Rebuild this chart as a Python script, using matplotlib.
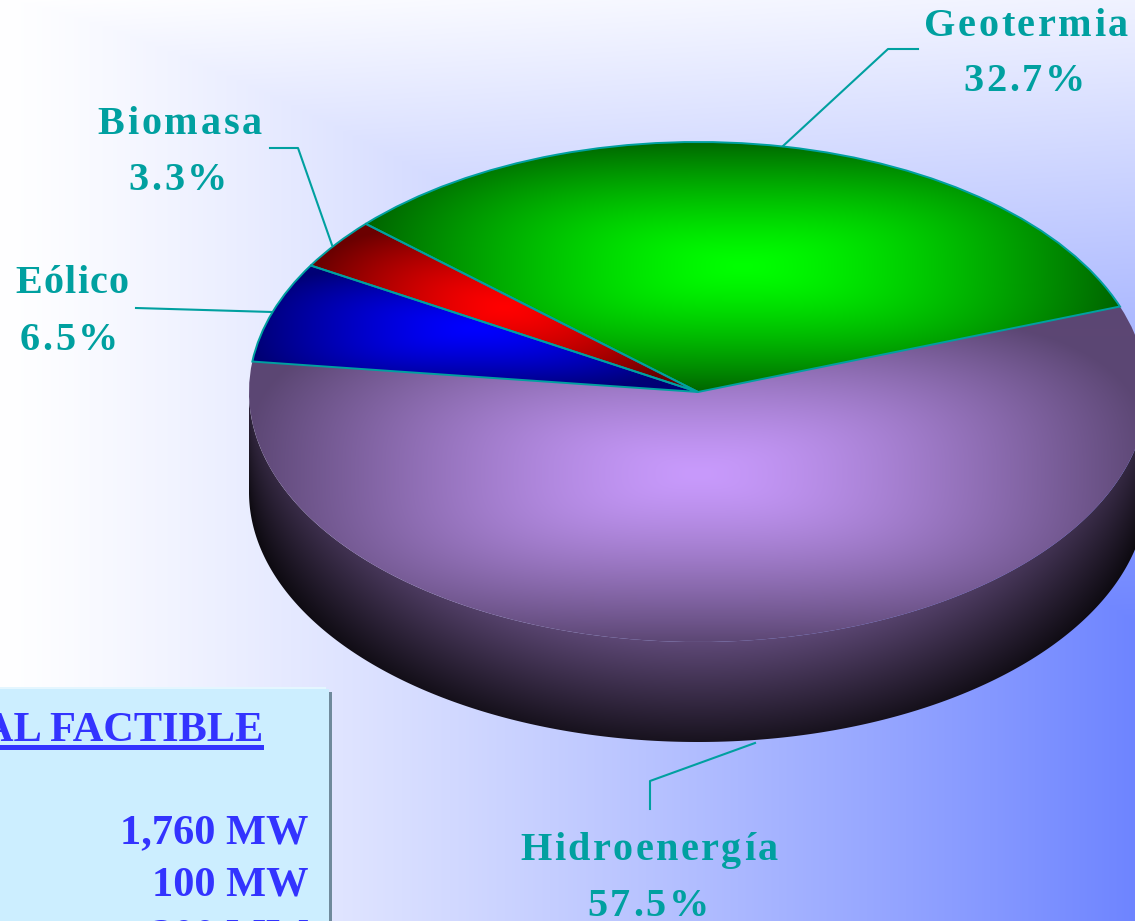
import numpy as np
import matplotlib
matplotlib.use("Agg")
import matplotlib.pyplot as plt
from matplotlib.font_manager import FontProperties
from matplotlib.patches import Polygon, Rectangle
from matplotlib.text import Text
from matplotlib.transforms import Affine2D, Bbox, IdentityTransform

# ---- data ----
slice_names = ["Hidroenergía", "Geotermia", "Biomasa", "Eólico"]
slice_shares = [57.5, 32.7, 3.3, 6.5]
slice_colors = ["#c89afc", "#00ff00", "#ff0000", "#0000ff"]
table_title = "AL FACTIBLE"
table_values = ["1,760 MW", "100 MW", "200 MW"]

W, H = 1135, 921
CX, CY, RX, RY = 698.0, 392.0, 449.0, 250.0
DEPTH = 100.0
TEAL = "#00a0a0"
TABLE_BLUE = "#3333ff"

fig = plt.figure(figsize=(W / 100, H / 100), dpi=100)
ax = fig.add_axes([0, 0, 1, 1])

to_u = lambda x: (x - CX) / RX
to_v = lambda y: (CY - y) / RY
px = Affine2D().scale(1, -1).translate(0, H)  # reference pixels -> display

xx, yy = np.meshgrid(np.arange(W) + .5, np.arange(H) + .5)
extent = (to_u(0), to_u(W), to_v(H), to_v(0))


def rgb(hex_colour):
    return np.array(matplotlib.colors.to_rgb(hex_colour))


def paint(shade, colour, clip=None, z=1):
    img = np.clip(shade[..., None] * rgb(colour), 0, 1)
    im = ax.imshow(img, extent=extent, aspect="auto", origin="upper",
                   zorder=z, interpolation="bilinear")
    if clip is not None:
        im.set_clip_path(clip)
    return im


# background gradient
p = .1 * xx / W + np.minimum(.88 * (xx / W) ** 1.3, 1.3 * yy / H)
bg = rgb("#ffffff") + (rgb("#6b82ff") - rgb("#ffffff")) * p[..., None]
ax.imshow(np.clip(bg, 0, 1), extent=extent, aspect="auto", origin="upper", zorder=0)

wedges, _ = ax.pie(slice_shares, colors=slice_colors, startangle=173,
                   counterclock=True, radius=1.0,
                   wedgeprops=dict(edgecolor=TEAL, linewidth=1.4))

# side wall
theta = np.radians(np.linspace(180, 360, 361))
arc = np.column_stack([np.cos(theta), np.sin(theta)])
low = arc + [0, -DEPTH / RY]
wall = Polygon(np.vstack([arc, low[::-1]]), closed=True, transform=ax.transData,
               facecolor="none", edgecolor="none")
ax.add_patch(wall)
u = np.clip((xx - CX) / RX, -1, 1)
ytop = CY + RY * np.sqrt(1 - u ** 2)
d = np.clip((yy - ytop) / DEPTH, 0, 1)
wall_shade = (.47 - .35 * d) * (1 - .5 * u ** 2)
paint(wall_shade, slice_colors[0], clip=wall, z=1)

# top slices
floors = [.46, .40, .42, .46]
for w, colour, floor in zip(wedges, slice_colors, floors):
    ext = w.get_path().get_extents(w.get_patch_transform())
    x0, x1 = CX + RX * ext.x0, CX + RX * ext.x1
    y0, y1 = CY - RY * ext.y1, CY - RY * ext.y0
    mx, my = (x0 + x1) / 2, (y0 + y1) / 2
    a = np.abs(xx - mx) / ((x1 - x0) / 2)
    b = np.abs(yy - my) / ((y1 - y0) / 2)
    r = (a ** 3 + b ** 3) ** (1 / 3)
    shade = 1 - (1 - floor) * np.clip(r, 0, 1) ** 1.4
    paint(shade, colour, clip=w, z=2)
    w.set_facecolor("none")
    w.set_zorder(3)
wedges[0].set_edgecolor("none")

ax.set_xlim(to_u(0), to_u(W))
ax.set_ylim(to_v(H), to_v(0))
ax.set_axis_off()


class SpacedText(Text):
    """Single text object drawn with extra letter spacing (in pixels)."""

    def __init__(self, x, y, s, spacing=0, **kw):
        super().__init__(x, y, s, **kw)
        self.spacing = spacing

    def _advances(self, renderer):
        fp = self.get_fontproperties()
        return [renderer.get_text_width_height_descent(c, fp, False)[0] + self.spacing
                for c in self.get_text()]

    def get_window_extent(self, renderer=None, dpi=None):
        renderer = renderer or self.get_figure().canvas.get_renderer()
        adv = self._advances(renderer)
        tot = sum(adv) - self.spacing
        x, y = self.get_transform().transform(self.get_position())
        return Bbox.from_bounds(x - tot / 2, y - 1, tot, 28)

    def draw(self, renderer):
        adv = self._advances(renderer)
        tot = sum(adv) - self.spacing
        x, y = self.get_transform().transform(self.get_position())
        cur = x - tot / 2
        for c, a in zip(self.get_text(), adv):
            t = Text(cur, y, c, fontproperties=self.get_fontproperties(),
                     color=self.get_color(), ha="left", va="baseline",
                     transform=IdentityTransform())
            t.set_figure(self.get_figure())
            t.draw(renderer)
            cur += a


label_font = FontProperties(family="Liberation Serif", weight="bold", size=29)
name_pos = {"Geotermia": (1026, 36), "Biomasa": (180, 134), "Eólico": (72, 293),
            "Hidroenergía": (649, 860)}
name_gap = {"Geotermia": 2.6, "Biomasa": 2.8, "Eólico": 1.3, "Hidroenergía": 2.5}
pct_pos = {"Geotermia": (1024, 91), "Biomasa": (178, 190), "Eólico": (69, 350),
           "Hidroenergía": (648, 916)}
for name, share in zip(slice_names, slice_shares):
    fig.add_artist(SpacedText(*name_pos[name], name, spacing=name_gap[name], transform=px,
                              fontproperties=label_font, color=TEAL))
    fig.add_artist(SpacedText(*pct_pos[name], f"{share:.1f}%", spacing=2.8, transform=px,
                              fontproperties=label_font, color=TEAL))

leaders = [
    ([270, 298, 332], [148, 148, 245]),
    ([136, 272], [308, 312]),
    ([918, 888, 783], [49, 49, 146]),
    ([650, 650, 755], [809, 781, 743]),
]
for lx, ly in leaders:
    fig.add_artist(plt.Line2D(lx, ly, color=TEAL, lw=1.5, transform=px))

# table panel
fig.add_artist(Rectangle((-5, 687), 331, 240, transform=px, facecolor="#e4f6ff",
                         edgecolor="none"))
fig.add_artist(Rectangle((-5, 689), 334, 240, transform=px, facecolor="#cceeff",
                         edgecolor="none"))
fig.add_artist(Rectangle((329, 692), 3, 235, transform=px, facecolor="#6f8a9c",
                         edgecolor="none"))
table_font = FontProperties(family="Liberation Serif", weight="bold", size=30.5)
fig.add_artist(Text(263, 741, table_title, fontproperties=table_font, color=TABLE_BLUE,
                    ha="right", va="baseline", transform=px))
fig.add_artist(Rectangle((-5, 745), 269, 5, transform=px, facecolor=TABLE_BLUE,
                         edgecolor="none"))
for value, base in zip(table_values, [843, 895, 947]):
    fig.add_artist(Text(308, base, value, fontproperties=table_font, color=TABLE_BLUE,
                        ha="right", va="baseline", transform=px))

fig.savefig("out.png", dpi=100)
